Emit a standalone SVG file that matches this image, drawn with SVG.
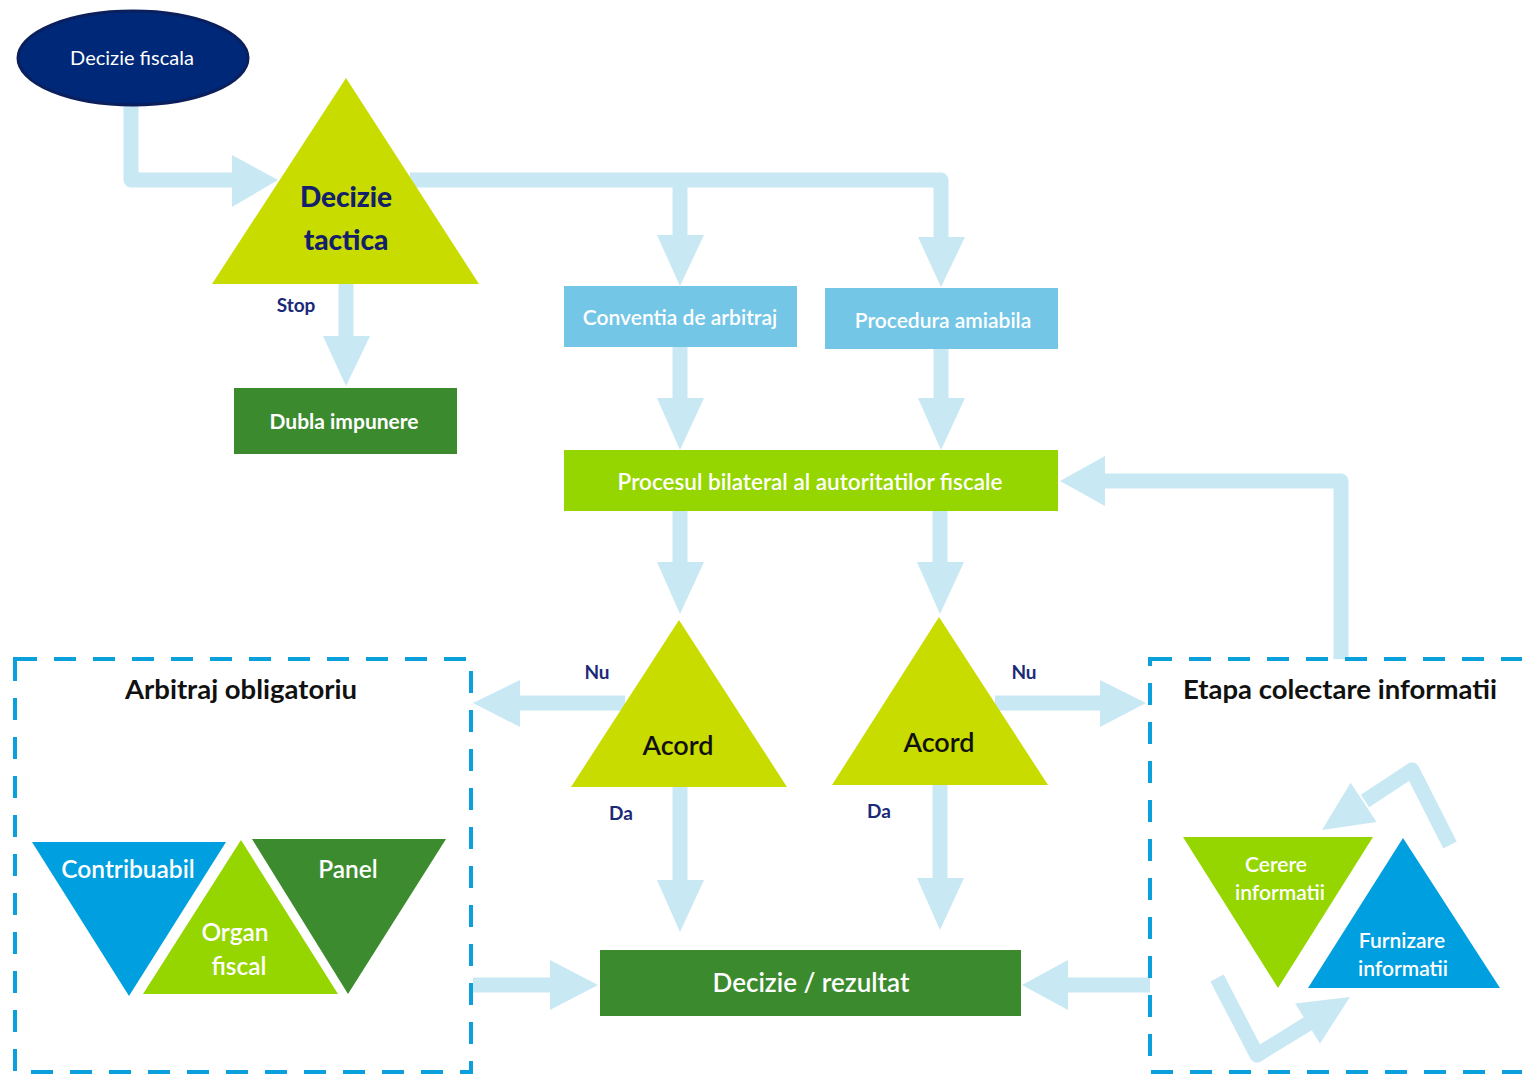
<svg xmlns="http://www.w3.org/2000/svg" width="1522" height="1075" viewBox="0 0 1522 1075">
<style>
.bar{fill:none;stroke:#c8e8f4;stroke-width:15;stroke-linejoin:round}
.head{fill:#c8e8f4}
.t{font-family:Lato,"Open Sans","Liberation Sans",sans-serif;text-anchor:middle}
.w{fill:#ffffff}
.sb{font-weight:600}
.lbl{fill:#1b2a78;font-size:19px;font-weight:bold}
.dash{fill:none;stroke:#0aa0dc;stroke-width:4;stroke-dasharray:22 17}
.ttl{fill:#111111;font-size:27.5px;font-weight:bold}
</style>
<rect width="1522" height="1075" fill="#ffffff"/>
<g id="connectors">
  <path class="bar" d="M131,105 V180 H234"/>
  <polygon class="head" points="232,155 278,180 232,207"/>
  <path class="bar" d="M410,180 H941 V238"/>
  <path class="bar" d="M680,180 V237"/>
  <polygon class="head" points="657,235 704,235 680,286"/>
  <polygon class="head" points="918,237 965,237 941,287"/>
  <path class="bar" d="M680,347 V400"/>
  <polygon class="head" points="657,398 704,398 680,450"/>
  <path class="bar" d="M941,349 V400"/>
  <polygon class="head" points="918,398 965,398 941,450"/>
  <path class="bar" d="M346,284 V338"/>
  <polygon class="head" points="323,336 370,336 346,386"/>
  <path class="bar" d="M680,511 V564"/>
  <polygon class="head" points="657,562 704,562 680,614"/>
  <path class="bar" d="M940,511 V564"/>
  <polygon class="head" points="917,562 964,562 940,614"/>
  <path class="bar" d="M625,703 H518"/>
  <polygon class="head" points="520,680 520,727 473,703"/>
  <path class="bar" d="M995,703 H1102"/>
  <polygon class="head" points="1100,680 1100,727 1146,703"/>
  <path class="bar" d="M680,787 V882"/>
  <polygon class="head" points="657,880 704,880 680,932"/>
  <path class="bar" d="M940,785 V880"/>
  <polygon class="head" points="917,878 964,878 940,930"/>
  <path class="bar" d="M473,985 H552"/>
  <polygon class="head" points="550,960 550,1010 598,985"/>
  <path class="bar" d="M1150,985 H1066"/>
  <polygon class="head" points="1068,960 1068,1010 1022,985"/>
  <path class="bar" d="M1341,659 V481 H1103"/>
  <polygon class="head" points="1105,456 1105,506 1060,481"/>
  <path class="bar" d="M1450,845 L1412,770 L1365,801"/>
  <polygon class="head" points="1376.6,821.9 1350.6,782.7 1322,830"/>
  <path class="bar" d="M1217,978 L1257,1055 L1309,1023"/>
  <polygon class="head" points="1320,1043.5 1295.2,1003.5 1350,997"/>
</g>
<g id="decizie-fiscala">
  <ellipse cx="133" cy="58" rx="115" ry="47" fill="#002878" stroke="#0a1f5c" stroke-width="3"/>
  <text class="t w" x="132" y="65" font-size="20">Decizie fiscala</text>
</g>
<g id="decizie-tactica">
  <polygon points="346,78 479,284 212,284" fill="#c9dc00"/>
  <text class="t" x="346" y="207" font-size="28" font-weight="900" fill="#14206a">Decizie</text>
  <text class="t" x="346" y="250" font-size="28" font-weight="900" fill="#14206a">tactica</text>
  <text class="t lbl" x="296" y="312">Stop</text>
</g>
<g id="dubla-impunere">
  <rect x="234" y="388" width="223" height="66" fill="#3c8a2e"/>
  <text class="t w" x="344" y="429" font-size="21" font-weight="bold">Dubla impunere</text>
</g>
<g id="conventia">
  <rect x="564" y="286" width="233" height="61" fill="#74c6e6"/>
  <text class="t w sb" x="680" y="325" font-size="21">Conventia de arbitraj</text>
</g>
<g id="procedura">
  <rect x="825" y="288" width="233" height="61" fill="#74c6e6"/>
  <text class="t w sb" x="943" y="328" font-size="21">Procedura amiabila</text>
</g>
<g id="procesul">
  <rect x="564" y="450" width="494" height="61" fill="#95d600"/>
  <text class="t w sb" x="810" y="490" font-size="22.5">Procesul  bilateral al autoritatilor  fiscale</text>
</g>
<g id="acord-1">
  <polygon points="679,620 787,787 571,787" fill="#c9dc00"/>
  <text class="t sb" x="678" y="755" font-size="27" fill="#111111">Acord</text>
  <text class="t lbl" x="597" y="679">Nu</text>
  <text class="t lbl" x="621" y="820">Da</text>
</g>
<g id="acord-2">
  <polygon points="939,617 1048,785 832,785" fill="#c9dc00"/>
  <text class="t sb" x="939" y="752" font-size="27" fill="#111111">Acord</text>
  <text class="t lbl" x="1024" y="679">Nu</text>
  <text class="t lbl" x="879" y="818">Da</text>
</g>
<g id="decizie-rezultat">
  <rect x="600" y="950" width="421" height="66" fill="#3c8a2e"/>
  <text class="t w sb" x="811" y="992" font-size="26">Decizie / rezultat</text>
</g>
<g id="arbitraj-obligatoriu">
  <rect class="dash" x="15" y="659" width="456" height="413"/>
  <text class="t ttl" x="241" y="699">Arbitraj obligatoriu</text>
  <polygon points="32,842 226,842 129,996" fill="#009fdf"/>
  <polygon points="241,840 338,994 143,994" fill="#95d600"/>
  <polygon points="252,839 446,839 348,994" fill="#3d8b2f"/>
  <text class="t w sb" x="128" y="878" font-size="24.5">Contribuabil</text>
  <text class="t w sb" x="348" y="878" font-size="24.5">Panel</text>
  <text class="t w sb" x="235" y="941" font-size="24.5">Organ</text>
  <text class="t w sb" x="239" y="975" font-size="24.5">fiscal</text>
</g>
<g id="etapa-colectare">
  <rect class="dash" x="1150" y="659" width="390" height="413"/>
  <text class="t ttl" x="1340" y="699">Etapa colectare informatii</text>
  <polygon points="1183,837 1373,837 1278,988" fill="#95d600"/>
  <polygon points="1403,838 1500,988 1308,988" fill="#009fdf"/>
  <text class="t w sb" x="1276" y="872" font-size="21">Cerere</text>
  <text class="t w sb" x="1280" y="900" font-size="21">informatii</text>
  <text class="t w sb" x="1402" y="948" font-size="21">Furnizare</text>
  <text class="t w sb" x="1403" y="976" font-size="21">informatii</text>
</g>
</svg>
